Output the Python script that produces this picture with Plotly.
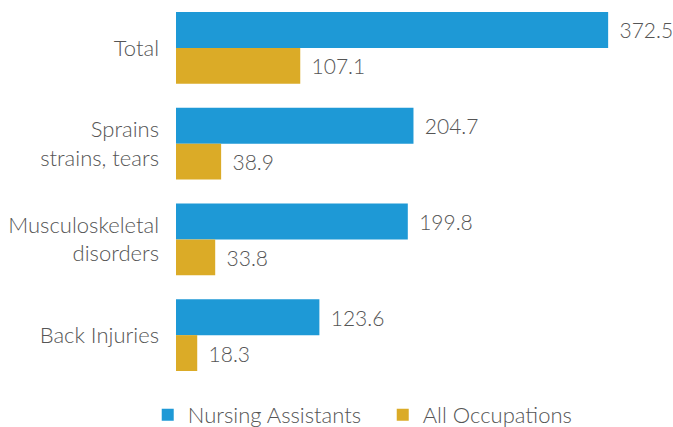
import plotly.graph_objects as go

categories = ["Total", "Sprains<br>strains, tears", "Musculoskeletal<br>disorders", "Back Injuries"]
nursing = [372.5, 204.7, 199.8, 123.6]
all_occ = [107.1, 38.9, 33.8, 18.3]

BLUE = "#1e99d6"
GOLD = "#dbab27"
TXT = "#555555"
FONT = "Lato Light, Lato, sans-serif"
FS = 22

fig = go.Figure()
for name, vals, col, lg in [("Nursing Assistants", nursing, BLUE, "legend"),
                            ("All Occupations", all_occ, GOLD, "legend2")]:
    fig.add_trace(go.Bar(
        y=categories, x=vals, orientation="h", name=name, legend=lg,
        marker=dict(color=col, line=dict(width=0)),
        text=[f"{v:.1f}" for v in vals], texttemplate=" \u2009%{text}",
        textposition="outside", cliponaxis=False, constraintext="none",
        textfont=dict(family=FONT, size=FS - 1, color=TXT),
    ))

leg_common = dict(orientation="h", xref="container", xanchor="left",
                  yref="container", y=1 - 415 / 427, yanchor="middle",
                  font=dict(family=FONT, size=FS, color=TXT), itemwidth=30)

fig.update_layout(
    width=673, height=427,
    margin=dict(l=176, r=8, t=0, b=44, autoexpand=False),
    barmode="group", bargap=0.25, bargroupgap=0,
    plot_bgcolor="white", paper_bgcolor="white",
    font=dict(family=FONT, size=FS, color=TXT),
    showlegend=True,
    legend=dict(x=0.2195, **leg_common),
    legend2=dict(x=0.5687, **leg_common),
    uniformtext=dict(mode=False),
)
fig.update_xaxes(range=[0, 421.5], visible=False, showgrid=False, zeroline=False, automargin=False)
fig.update_yaxes(autorange="reversed", showgrid=False, zeroline=False, showline=False,
                 ticks="", ticklabelstandoff=16, automargin=False,
                 tickfont=dict(family=FONT, size=FS, color=TXT))

fig.write_html("out.html", config={"displayModeBar": False},
               post_script="document.body.style.margin='0';")
